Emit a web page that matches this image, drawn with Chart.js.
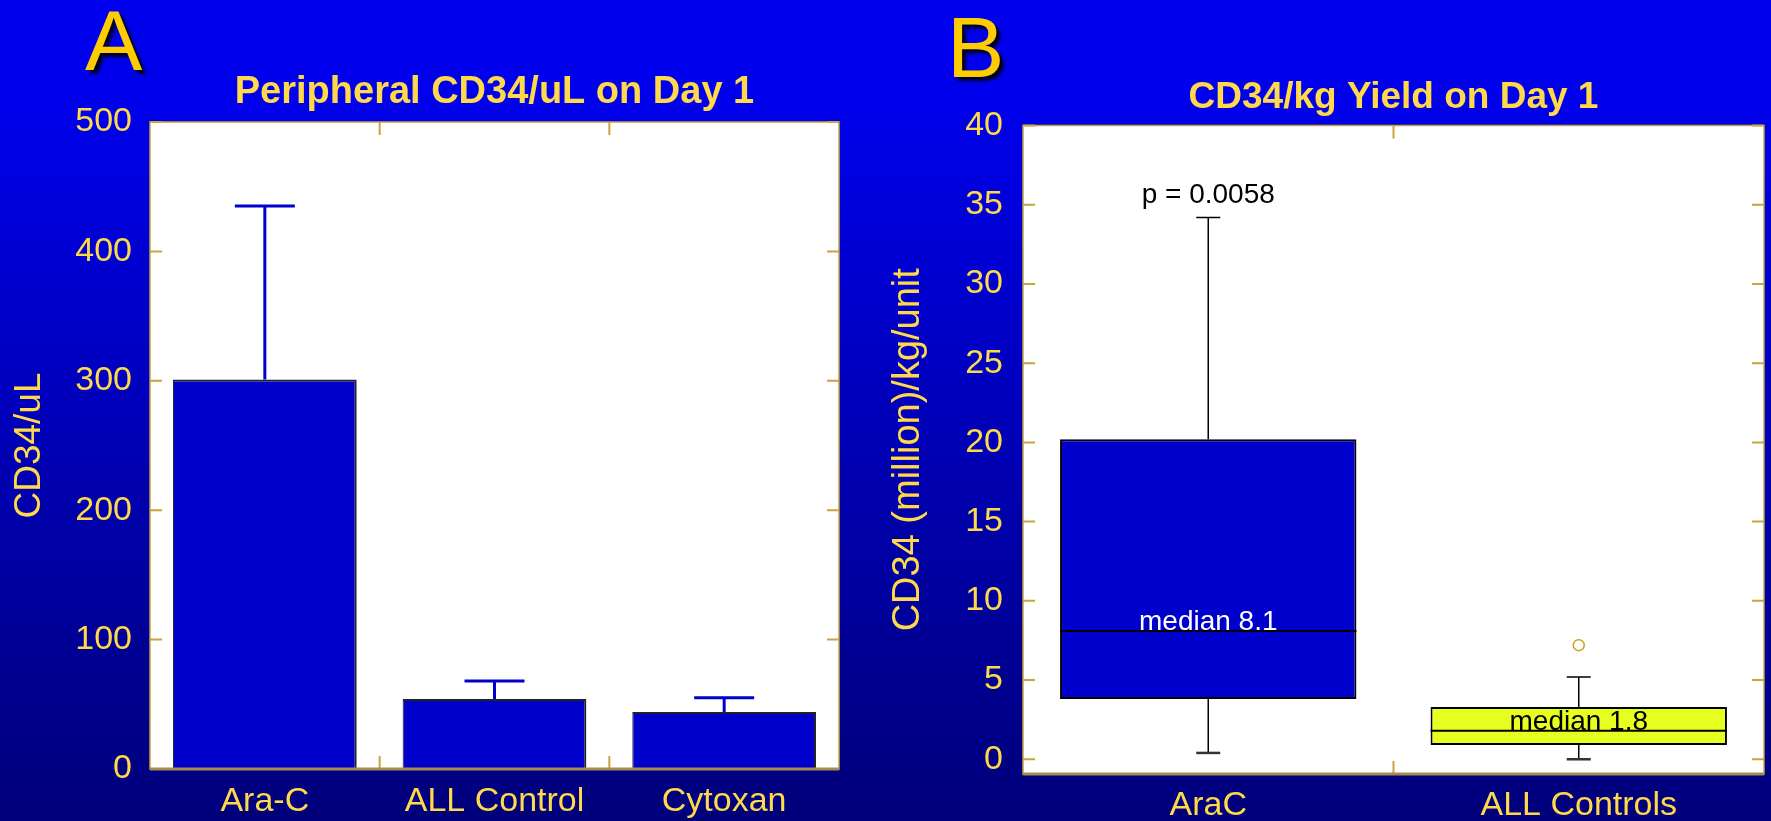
<!DOCTYPE html>
<html>
<head>
<meta charset="utf-8">
<script src="https://cdn.jsdelivr.net/npm/chart.js@4.4.0/dist/chart.umd.min.js"></script>
<style>
html, body { margin:0; padding:0; }
body {
  width:1771px; height:821px; overflow:hidden; position:relative;
  background: linear-gradient(to bottom, #0000ee 0%, #0000ec 12%, #00007a 100%);
  font-family: 'Liberation Sans', Arial, sans-serif;
}
canvas { position:absolute; top:0; }
#chartA { left:0; }
#chartB { left:885px; }
.panel { position:absolute; color:#ffcc00; font-size:86px; line-height:1; text-shadow: 4px 4px 3px #000028; }
</style>
</head>
<body>
<div class="panel" style="left:85px; top:-3px;">A</div>
<div class="panel" style="left:947px; top:4px;">B</div>
<canvas id="chartA" width="885" height="821"></canvas>
<canvas id="chartB" width="886" height="821"></canvas>
<script>
// panel A: mean CD34/uL with upper error bar
var titleA = 'Peripheral CD34/uL on Day 1';
var categoriesA = ['Ara-C', 'ALL Control', 'Cytoxan'];
var meansA = [301, 54, 44];
var errTopA = [435, 68, 55];
var yTicksA = [0, 100, 200, 300, 400, 500];

// panel B: box plot of CD34/kg yield
var titleB = 'CD34/kg Yield on Day 1';
var categoriesB = ['AraC', 'ALL Controls'];
var whiskerLowB = [0.4, 0.0];
var q1B = [3.8, 0.9];
var medianB = [8.1, 1.8];
var q3B = [20.2, 3.3];
var whiskerHighB = [34.2, 5.2];
var outliersB = [null, 7.2];
var yTicksB = [0, 5, 10, 15, 20, 25, 30, 35, 40];
var pText = 'p = 0.0058';

var FONT = "'Liberation Sans', Arial, sans-serif";
var GOLD = '#ffd94a';
var EDGE = '#c9a43c';
var boxColors = ['#0000cc', '#e6ff1f'];
var medianTextColors = ['#ffffff', '#000000'];

// white plot area, gold frame and the little inside tick marks
var frame = {
    id: 'frame',
    beforeDraw: function (chart) {
        var a = chart.chartArea, ctx = chart.ctx;
        ctx.save();
        ctx.fillStyle = '#ffffff';
        ctx.fillRect(a.left, a.top, a.right - a.left, a.bottom - a.top);
        ctx.restore();
    },
    afterDatasetsDraw: function (chart) {
        var a = chart.chartArea, ctx = chart.ctx;
        var ys = chart.scales.y, xs = chart.scales.x;
        ctx.save();
        ctx.strokeStyle = EDGE;
        ctx.lineWidth = 2;
        ctx.beginPath();
        ys.ticks.forEach(function (t) {
            var y = ys.getPixelForValue(t.value);
            ctx.moveTo(a.left, y); ctx.lineTo(a.left + 12, y);
            ctx.moveTo(a.right, y); ctx.lineTo(a.right - 12, y);
        });
        for (var i = 1; i < chart.data.labels.length; i++) {
            var x = (xs.getPixelForValue(i - 1) + xs.getPixelForValue(i)) / 2;
            ctx.moveTo(x, a.top); ctx.lineTo(x, a.top + 13);
            ctx.moveTo(x, a.bottom); ctx.lineTo(x, a.bottom - 13);
        }
        ctx.stroke();
        ctx.lineWidth = 1.5;
        ctx.strokeRect(a.left, a.top, a.right - a.left, a.bottom - a.top);
        ctx.strokeStyle = '#a88c4c';
        ctx.lineWidth = 3;
        ctx.beginPath();
        ctx.moveTo(a.left, a.bottom); ctx.lineTo(a.right, a.bottom);
        ctx.stroke();
        ctx.restore();
    }
};

var errorBars = {
    id: 'errorBars',
    afterDatasetsDraw: function (chart) {
        var meta = chart.getDatasetMeta(0), ys = chart.scales.y, ctx = chart.ctx;
        ctx.save();
        ctx.strokeStyle = '#0000cc';
        ctx.lineWidth = 3;
        meta.data.forEach(function (bar, i) {
            var top = ys.getPixelForValue(errTopA[i]);
            ctx.beginPath();
            ctx.moveTo(bar.x, bar.y); ctx.lineTo(bar.x, top);
            ctx.moveTo(bar.x - 30, top); ctx.lineTo(bar.x + 30, top);
            ctx.stroke();
        });
        ctx.restore();
    }
};

var boxParts = {
    id: 'boxParts',
    afterDatasetsDraw: function (chart) {
        var meta = chart.getDatasetMeta(0), ys = chart.scales.y, ctx = chart.ctx;
        ctx.save();
        meta.data.forEach(function (box, i) {
            var half = box.width / 2;
            var yHi = ys.getPixelForValue(whiskerHighB[i]);
            var yLo = ys.getPixelForValue(whiskerLowB[i]);
            var yQ3 = ys.getPixelForValue(q3B[i]);
            var yQ1 = ys.getPixelForValue(q1B[i]);
            var yMed = ys.getPixelForValue(medianB[i]);
            ctx.strokeStyle = '#000000';
            ctx.lineWidth = 1.5;
            ctx.beginPath();
            ctx.moveTo(box.x, yQ3); ctx.lineTo(box.x, yHi);
            ctx.moveTo(box.x - 12, yHi); ctx.lineTo(box.x + 12, yHi);
            ctx.moveTo(box.x, yQ1); ctx.lineTo(box.x, yLo);
            ctx.stroke();
            ctx.strokeStyle = '#333333';
            ctx.lineWidth = 2.5;
            ctx.beginPath();
            ctx.moveTo(box.x - 12, yLo); ctx.lineTo(box.x + 12, yLo);
            ctx.stroke();
            ctx.strokeStyle = '#000000';
            ctx.lineWidth = 2;
            ctx.beginPath();
            ctx.moveTo(box.x - half, yMed); ctx.lineTo(box.x + half, yMed);
            ctx.stroke();
            ctx.font = '28px ' + FONT;
            ctx.textAlign = 'center';
            ctx.textBaseline = 'alphabetic';
            ctx.fillStyle = medianTextColors[i];
            ctx.fillText('median ' + medianB[i], box.x, yMed - 1);
            if (i === 0) {
                ctx.fillStyle = '#000000';
                ctx.fillText(pText, box.x, yHi - 14);
            }
        });
        ctx.restore();
    }
};

new Chart(document.getElementById('chartA'), {
    type: 'bar',
    data: {
        labels: categoriesA,
        datasets: [{
            data: meansA,
            backgroundColor: '#0000cc',
            borderColor: '#222222',
            borderWidth: {top: 2, right: 2, left: 1, bottom: 0},
            borderSkipped: false,
            barPercentage: 0.8,
            categoryPercentage: 1
        }]
    },
    options: {
        responsive: false,
        animation: false,
        layout: {padding: {top: 58, right: 46, bottom: 0, left: 0}},
        plugins: {
            legend: {display: false},
            tooltip: {enabled: false},
            title: {
                display: true, text: titleA, color: GOLD, fullSize: false,
                font: {family: FONT, size: 38, weight: 'bold'},
                padding: {top: 12, bottom: 6.4}
            }
        },
        scales: {
            x: {
                grid: {display: false, drawTicks: false},
                border: {display: false},
                ticks: {color: GOLD, font: {family: FONT, size: 34}, padding: 12},
                afterFit: function (s) { s.height = 52; }
            },
            y: {
                min: 0, max: 500,
                afterBuildTicks: function (s) { s.ticks = yTicksA.map(function (v) { return {value: v}; }); },
                grid: {display: false, drawTicks: false},
                border: {display: false},
                ticks: {color: GOLD, font: {family: FONT, size: 34}, padding: 18},
                title: {display: true, text: 'CD34/uL', color: GOLD, font: {family: FONT, size: 37}, padding: {top: 8, bottom: 0}},
                afterFit: function (s) { s.width = 150; }
            }
        }
    },
    plugins: [frame, errorBars]
});

new Chart(document.getElementById('chartB'), {
    type: 'bar',
    data: {
        labels: categoriesB,
        datasets: [{
            type: 'bar',
            data: q1B.map(function (q, i) { return [q, q3B[i]]; }),
            backgroundColor: boxColors,
            borderColor: '#000000',
            borderWidth: 2,
            borderSkipped: false,
            barPercentage: 0.8,
            categoryPercentage: 1,
            order: 2
        }, {
            type: 'line',
            data: outliersB,
            showLine: false,
            pointRadius: 5.5,
            pointBorderColor: '#d0a020',
            pointBackgroundColor: 'rgba(0,0,0,0)',
            pointBorderWidth: 1.5,
            order: 1
        }]
    },
    options: {
        responsive: false,
        animation: false,
        layout: {padding: {top: 65, right: 6, bottom: 0, left: 0}},
        plugins: {
            legend: {display: false},
            tooltip: {enabled: false},
            title: {
                display: true, text: titleB, color: GOLD, fullSize: false,
                font: {family: FONT, size: 37, weight: 'bold'},
                padding: {top: 10.4, bottom: 5.7}
            }
        },
        scales: {
            x: {
                grid: {display: false, drawTicks: false},
                border: {display: false},
                ticks: {color: GOLD, font: {family: FONT, size: 34}, padding: 11},
                afterFit: function (s) { s.height = 47; }
            },
            y: {
                min: -0.93, max: 40,
                afterBuildTicks: function (s) { s.ticks = yTicksB.map(function (v) { return {value: v}; }); },
                grid: {display: false, drawTicks: false},
                border: {display: false},
                ticks: {color: GOLD, font: {family: FONT, size: 34}, padding: 20},
                title: {display: true, text: 'CD34 (million)/kg/unit', color: GOLD, font: {family: FONT, size: 38}, padding: {top: 1, bottom: 0}},
                afterFit: function (s) { s.width = 138; }
            }
        }
    },
    plugins: [frame, boxParts]
});
</script>
</body>
</html>
